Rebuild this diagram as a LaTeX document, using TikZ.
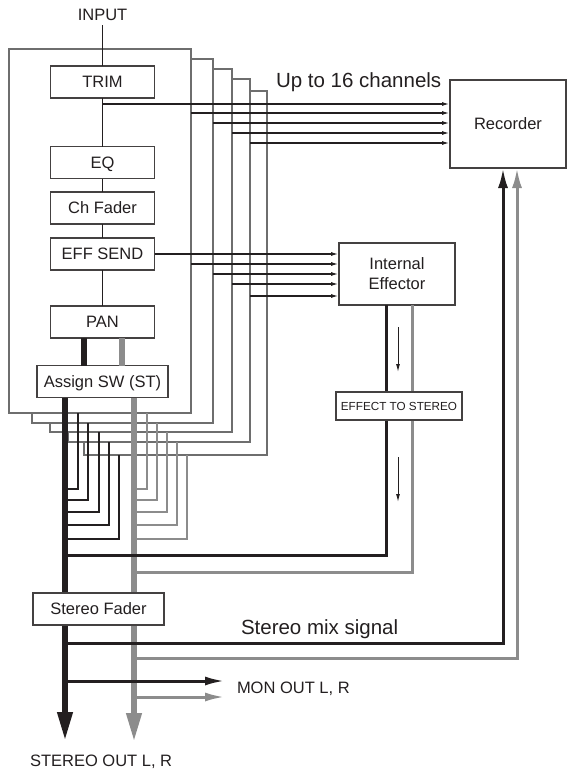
\documentclass[tikz,border=0pt]{standalone}
\usepackage{fontspec}
\setmainfont{Liberation Sans}
\usepackage{tikz}
\usetikzlibrary{arrows.meta,calc}
\definecolor{ink}{HTML}{231F20}
\definecolor{busgrey}{HTML}{8C8C8C}
\definecolor{framegrey}{HTML}{6E6E6E}

\begin{document}
\begin{tikzpicture}[x=1pt,y=-1pt,
  every node/.style={font=\fontsize{16.5}{20}\selectfont,text=ink,inner sep=0pt,outer sep=0pt},
  blk/.style={draw=ink!85,line width=1.2pt,fill=white,minimum width=104pt,minimum height=32pt,text height=11.8pt,text depth=0pt},
  chframe/.style={draw=framegrey,line width=1.3pt,fill=white,anchor=north west},
  sig/.style={draw=ink,line width=1.5pt},
  chan/.style={sig,-{Latex[length=8pt,width=4pt]}},
  outL/.style={draw=ink,line width=2.4pt},
  outR/.style={draw=busgrey,line width=2.4pt},
  busL/.style={draw=ink,line width=6.5pt},
  busR/.style={draw=busgrey,line width=6.5pt},
  retL/.style={draw=ink,line width=3pt},
  retR/.style={draw=busgrey,line width=3pt},
  big/.style={font=\fontsize{20.5}{24}\selectfont}]
\useasboundingbox (0,0) rectangle (567,776);

\foreach \i/\l/\t/\r/\b in {5/84/91/267/455,4/68/79/250/442,3/50/69/232/432,2/32/59/213/423,1/9/49/191/413}{
  \pgfmathsetmacro\frw{\r-\l}
  \pgfmathsetmacro\frh{\b-\t}
  \node (ch\i) [chframe,minimum width=\frw pt,minimum height=\frh pt] at (\l,\t) {};
}

\node (input) [anchor=base] at (102.5,21) {INPUT};
\node (trim) [blk] at (102.5,82) {TRIM};
\node (eq) [blk] at (102.5,162.5) {EQ};
\node (fader) [blk] at (102.5,208) {Ch Fader};
\node (send) [blk] at (102.5,254) {EFF SEND};
\node (pan) [blk] at (102.5,322) {PAN};
\node (assign) [blk,minimum width=131pt] at (102.5,381.5) {Assign SW (ST)};
\node (rec) [blk,minimum width=116pt,minimum height=88pt] at (508,124) {Recorder};
\node (eff) [blk,minimum width=116pt,minimum height=62pt,text height=,text depth=,align=center] at (397,274) {Internal\\Effector};

\draw[sig] ([yshift=-4pt]input.south) -- (trim);
\foreach \a/\b in {trim/eq,eq/fader,fader/send,send/pan}
  \draw[sig] (\a) -- (\b);

% to the recorder
\draw[chan] (trim.south |- 0,104) -- (rec.west |- 0,104);
\foreach \i/\y in {1/113,2/123,3/133,4/143}
  \draw[chan] (ch\i.east |- 0,\y) -- (rec.west |- 0,\y);
\node (upto) [big,anchor=base west] at (276,87) {Up to 16 channels};

% to the effector
\draw[chan] (send) -- (eff.west |- send);
\foreach \i/\y in {1/264,2/274,3/284,4/296}
  \draw[chan] (ch\i.east |- 0,\y) -- (eff.west |- 0,\y);

\coordinate (stL) at (65,742);
\coordinate (stR) at (134,743);
\draw[busL] (pan.south -| 84,0) -- (assign.north -| 84,0);
\draw[busR] (pan.south -| 122,0) -- (assign.north -| 122,0);
\draw[busR,-{Triangle[length=30pt,width=14pt]}] (assign.south -| stR) -- (stR);
\draw[busL,-{Triangle[length=30pt,width=14pt]}] (assign.south -| stL) -- (stL);

\foreach \i/\x/\g/\y in {1/78/147/489,2/88/157/500,3/99/167/512,4/109/177/525,5/119/187/539}{
  \draw[outL] (ch\i.south -| \x,0) |- (stL |- 0,\y);
  \draw[outR] (ch\i.south -| \g,0) |- (stR |- 0,\y);
}

% effect return
\draw[retR] (eff.south -| 412,0) |- (stR |- 0,572);
\draw[retL] (eff.south -| 386,0) |- (stL |- 0,555);
\node (fxst) [blk,font=\fontsize{11.7}{14}\selectfont,text height=8.4pt,minimum width=126pt,minimum height=28pt] at (399,406) {EFFECT TO STEREO};
\draw[ink,line width=1pt,-{Latex[length=8pt,width=4pt]}] ($(eff.south)+(1,22)$) -- ($(fxst.north)+(-1,-20)$);
\draw[ink,line width=1pt,-{Latex[length=8pt,width=4pt]}] ($(fxst.south)+(-1,37)$) -- ($(fxst.south)+(-1,82)$);

\node (stfader) [blk,minimum width=131pt] at (98.5,609) {Stereo Fader};

% stereo mix back to the recorder
\draw[retR,-{Latex[length=20pt,width=10pt]}] (stR |- 0,658) -| (rec.south -| 517,0);
\draw[retL,-{Latex[length=20pt,width=10pt]}] (stL |- 0,643) -| (rec.south -| 503,0);
\node (mix) [big,anchor=base west] at (241,634) {Stereo mix signal};

\node (mon) [anchor=base west] at (237,693) {MON OUT L, R};
\coordinate (monL) at (225,681);
\coordinate (monR) at (225,697);
\draw[retR,-{Latex[length=20pt,width=9pt]}] (stR |- monR) -- (monR);
\draw[retL,-{Latex[length=20pt,width=9pt]}] (stL |- monL) -- (monL);

\node (stout) [anchor=base west] at (30,766) {STEREO OUT L, R};
\end{tikzpicture}
\end{document}
